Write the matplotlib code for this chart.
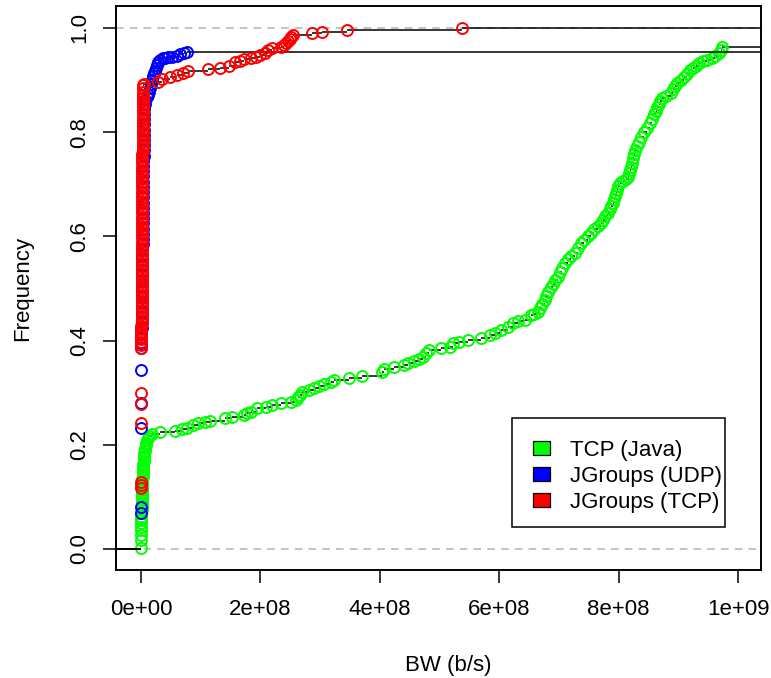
import matplotlib
matplotlib.use("Agg")
import matplotlib.pyplot as plt
from matplotlib.patches import Patch, Rectangle

plt.rcParams['font.family'] = ['Liberation Sans', 'DejaVu Sans']

# ---------------- data (BW in units of 1e9 b/s, cumulative frequency) -------------
BW_UNIT = 1e9

series_names = ["TCP (Java)", "JGroups (UDP)", "JGroups (TCP)"]
series_colors = ["#00FF00", "#0000FF", "#FF0000"]

tcp_java_bw = [
    0.0000, 0.0001, 0.0002, 0.0003, 0.0004, 0.0005, 0.0006, 0.0007, 0.0008, 0.0009,
    0.0010, 0.0011, 0.0012, 0.0013, 0.0014, 0.0015, 0.0016, 0.0017, 0.0018, 0.0020,
    0.0022, 0.0024, 0.0026, 0.0028, 0.0030, 0.0032, 0.0035, 0.0038, 0.0042, 0.0046,
    0.0050, 0.0055, 0.0060, 0.0068, 0.0076, 0.0085, 0.0095, 0.0110, 0.0130,
    0.018, 0.032, 0.057, 0.068, 0.077, 0.087, 0.095, 0.107, 0.115, 0.140,
    0.152, 0.173, 0.178, 0.185, 0.195, 0.210, 0.220, 0.235, 0.252, 0.260,
    0.263, 0.266, 0.270, 0.282, 0.290, 0.298, 0.307, 0.318, 0.323, 0.348,
    0.370, 0.403, 0.407, 0.423, 0.440, 0.448, 0.457, 0.465, 0.473, 0.478,
    0.482, 0.503, 0.518, 0.523, 0.532, 0.548, 0.570, 0.585, 0.593, 0.603,
    0.615, 0.623, 0.632, 0.643, 0.653, 0.659,
    0.665, 0.668, 0.672, 0.676, 0.679, 0.682, 0.686, 0.690, 0.694, 0.698,
    0.702, 0.706, 0.710, 0.716, 0.721, 0.727, 0.732, 0.737, 0.742, 0.748,
    0.753, 0.759, 0.765, 0.770, 0.774, 0.778, 0.782, 0.785, 0.788, 0.790,
    0.792, 0.794, 0.795, 0.797, 0.799, 0.802, 0.807, 0.812, 0.815, 0.817,
    0.819, 0.820, 0.822, 0.824, 0.826, 0.827, 0.830, 0.834, 0.837, 0.842,
    0.847, 0.853, 0.856, 0.860, 0.863, 0.865, 0.868, 0.870, 0.873, 0.880,
    0.887, 0.891, 0.895, 0.898, 0.904, 0.910, 0.915, 0.920, 0.925, 0.930,
    0.935, 0.941, 0.948, 0.957, 0.962, 0.968, 0.971, 0.973,
]
tcp_java_freq = [
    0.002, 0.017, 0.027, 0.036, 0.042, 0.050, 0.056, 0.062, 0.069, 0.074,
    0.079, 0.084, 0.089, 0.094, 0.099, 0.104, 0.109, 0.114, 0.119, 0.124,
    0.129, 0.134, 0.139, 0.144, 0.149, 0.154, 0.159, 0.164, 0.169, 0.174,
    0.179, 0.184, 0.189, 0.194, 0.199, 0.204, 0.209, 0.213, 0.217,
    0.221, 0.225, 0.226, 0.230, 0.232, 0.238, 0.242, 0.243, 0.246, 0.251,
    0.253, 0.257, 0.261, 0.263, 0.271, 0.273, 0.276, 0.280, 0.282, 0.286,
    0.291, 0.296, 0.301, 0.305, 0.309, 0.313, 0.317, 0.321, 0.324, 0.328,
    0.332, 0.340, 0.345, 0.349, 0.353, 0.357, 0.361, 0.365, 0.369, 0.376,
    0.382, 0.386, 0.388, 0.395, 0.397, 0.401, 0.405, 0.411, 0.415, 0.420,
    0.426, 0.434, 0.437, 0.440, 0.449, 0.452,
    0.455, 0.462, 0.470, 0.478, 0.486, 0.494, 0.502, 0.509, 0.516, 0.522,
    0.531, 0.540, 0.549, 0.556, 0.562, 0.568, 0.578, 0.587, 0.594, 0.600,
    0.607, 0.614, 0.620, 0.626, 0.632, 0.639, 0.645, 0.652, 0.658, 0.664,
    0.671, 0.677, 0.683, 0.690, 0.696, 0.702, 0.707, 0.711, 0.714, 0.721,
    0.728, 0.733, 0.741, 0.750, 0.758, 0.766, 0.773, 0.782, 0.791, 0.800,
    0.809, 0.818, 0.826, 0.834, 0.841, 0.848, 0.854, 0.860, 0.866, 0.870,
    0.875, 0.882, 0.888, 0.894, 0.900, 0.906, 0.912, 0.919, 0.924, 0.928,
    0.933, 0.936, 0.939, 0.942, 0.946, 0.952, 0.958, 0.964,
]

jgroups_udp_bw = [
    0.0000, 0.0001, 0.0002, 0.0003, 0.0004, 0.0005,
    0.0006, 0.0007, 0.0008, 0.0009, 0.0010, 0.0011, 0.0012, 0.0013, 0.0014, 0.0015,
    0.0016, 0.0017, 0.0018, 0.0019, 0.0020, 0.0021, 0.0022, 0.0023, 0.0024, 0.0025,
    0.0026, 0.0027, 0.0028, 0.0029, 0.0030, 0.0031, 0.0032, 0.0033, 0.0034, 0.0035,
    0.0036, 0.0037, 0.0038, 0.0039, 0.0040, 0.0041, 0.0042, 0.0043, 0.0044, 0.0045,
    0.0046, 0.0047, 0.0048, 0.0050, 0.0052, 0.0055, 0.0060,
    0.007, 0.010, 0.012, 0.013, 0.015, 0.017, 0.018, 0.020, 0.022, 0.023,
    0.025, 0.026, 0.028, 0.032, 0.037, 0.041, 0.045, 0.052, 0.060, 0.065,
    0.072, 0.077,
]
jgroups_udp_freq = [
    0.069, 0.081, 0.232, 0.280, 0.344, 0.386,
    0.395, 0.405, 0.415, 0.425, 0.435, 0.445, 0.455, 0.465, 0.475, 0.485,
    0.495, 0.505, 0.515, 0.525, 0.535, 0.545, 0.555, 0.565, 0.575, 0.585,
    0.595, 0.605, 0.615, 0.625, 0.635, 0.645, 0.655, 0.665, 0.675, 0.685,
    0.695, 0.705, 0.715, 0.725, 0.735, 0.745, 0.755, 0.765, 0.775, 0.785,
    0.795, 0.805, 0.815, 0.825, 0.835, 0.845, 0.855,
    0.862, 0.868, 0.872, 0.878, 0.885, 0.892, 0.900, 0.907, 0.914, 0.918,
    0.923, 0.929, 0.935, 0.939, 0.942, 0.943, 0.944, 0.945, 0.946, 0.950,
    0.952, 0.954,
]

jgroups_tcp_bw = [
    0.0000, 0.0001, 0.0002, 0.0003, 0.0004, 0.0005,
    0.00060, 0.00063, 0.00066, 0.00069, 0.00072, 0.00075, 0.00078, 0.00081, 0.00084, 0.00087,
    0.00090, 0.00093, 0.00096, 0.00099, 0.00102, 0.00105, 0.00108, 0.00111, 0.00114, 0.00117,
    0.00120, 0.00123, 0.00126, 0.00129, 0.00132, 0.00135, 0.00138, 0.00141, 0.00144, 0.00147,
    0.00150, 0.00153, 0.00156, 0.00159, 0.00162, 0.00165, 0.00168, 0.00171, 0.00174, 0.00177,
    0.00180, 0.00183, 0.00186, 0.00189, 0.00192, 0.00195, 0.00198, 0.00201, 0.00204, 0.00207,
    0.00210, 0.00213, 0.00216, 0.00219, 0.00222, 0.00225, 0.00228, 0.00231, 0.00234, 0.00237,
    0.00240, 0.00243, 0.00246, 0.00249, 0.00252, 0.00255, 0.00258, 0.00261, 0.00264, 0.00267,
    0.00270, 0.00273, 0.00276, 0.00279, 0.00282, 0.00285, 0.00288, 0.00291, 0.00294, 0.00297,
    0.00300, 0.00310, 0.00320, 0.00340, 0.00380,
    0.005, 0.028, 0.035, 0.048, 0.060, 0.070, 0.078, 0.112, 0.132, 0.148,
    0.157, 0.165, 0.173, 0.185, 0.193, 0.200, 0.207, 0.212, 0.220, 0.235,
    0.240, 0.243, 0.246, 0.249, 0.252, 0.255, 0.287, 0.303, 0.345, 0.538,
]
jgroups_tcp_freq = [
    0.117, 0.123, 0.129, 0.242, 0.278, 0.300,
    0.385, 0.392, 0.398, 0.404, 0.410, 0.416, 0.422, 0.428, 0.434, 0.440,
    0.446, 0.452, 0.458, 0.464, 0.470, 0.476, 0.482, 0.488, 0.494, 0.500,
    0.506, 0.512, 0.518, 0.524, 0.530, 0.536, 0.542, 0.548, 0.554, 0.560,
    0.566, 0.572, 0.578, 0.584, 0.590, 0.596, 0.602, 0.608, 0.614, 0.620,
    0.626, 0.632, 0.638, 0.644, 0.650, 0.656, 0.662, 0.668, 0.674, 0.680,
    0.686, 0.692, 0.698, 0.704, 0.710, 0.716, 0.722, 0.728, 0.734, 0.740,
    0.746, 0.752, 0.758, 0.764, 0.770, 0.776, 0.782, 0.788, 0.794, 0.800,
    0.806, 0.812, 0.818, 0.824, 0.830, 0.836, 0.842, 0.848, 0.854, 0.860,
    0.866, 0.872, 0.878, 0.884, 0.890,
    0.893, 0.897, 0.902, 0.906, 0.910, 0.914, 0.918, 0.921, 0.923, 0.928,
    0.934, 0.937, 0.940, 0.942, 0.945, 0.948, 0.952, 0.957, 0.961, 0.964,
    0.967, 0.971, 0.975, 0.979, 0.983, 0.987, 0.990, 0.993, 0.997, 1.000,
]

x_ticks = [0, 2e8, 4e8, 6e8, 8e8, 1e9]
x_tick_labels = ["0e+00", "2e+08", "4e+08", "6e+08", "8e+08", "1e+09"]
y_ticks = [0.0, 0.2, 0.4, 0.6, 0.8, 1.0]
y_tick_labels = ["0.0", "0.2", "0.4", "0.6", "0.8", "1.0"]
x_label = "BW (b/s)"
y_label = "Frequency"

# ---------------- figure ----------------
W, H = 771, 678
fig = plt.figure(figsize=(W / 100, H / 100), dpi=100)
L, R, T, B = 116, 761, 6, 570
ax = fig.add_axes([L / W, 1 - B / H, (R - L) / W, (B - T) / H])

xlim = (-0.0419e9, 1.0385e9)
ylim = (-0.0403, 1.0422)
ax.set_xlim(*xlim)
ax.set_ylim(*ylim)

gray_dash = dict(color="#B3B3B3", lw=1.1, linestyle=(0, (5, 4)), zorder=1)
ax.axhline(0, **gray_dash)
ax.axhline(1, **gray_dash)

all_series = [
    (tcp_java_bw, tcp_java_freq),
    (jgroups_udp_bw, jgroups_udp_freq),
    (jgroups_tcp_bw, jgroups_tcp_freq),
]
for i, ((bw, fr), col) in enumerate(zip(all_series, series_colors)):
    xs = [v * BW_UNIT for v in bw]
    z = 2 + 2 * i
    ax.hlines(fr[:-1], xs[:-1], xs[1:], colors="black", lw=1.1, zorder=z)
    ax.hlines([0], xlim[0], xs[0], colors="black", lw=1.1, zorder=z)
    ax.hlines([fr[-1]], xs[-1], xlim[1], colors="black", lw=1.1, zorder=z)
    ax.plot(xs, fr, linestyle="none", marker="o", markerfacecolor="none",
            markeredgecolor=col, markersize=7.9, markeredgewidth=1.4, zorder=z + 1)

ax.set_xticks(x_ticks)
ax.set_xticklabels(x_tick_labels)
ax.set_yticks(y_ticks)
ax.set_yticklabels(y_tick_labels)
ax.tick_params(axis="both", direction="out", length=9.7, width=1.1,
               labelsize=16, color="black")
ax.tick_params(axis="x", pad=11)
ax.tick_params(axis="y", pad=9)
for lab in ax.get_yticklabels():
    lab.set_rotation(90)
    lab.set_va("center")
    lab.set_ha("right")

for sp in ax.spines.values():
    sp.set_linewidth(1.4)
    sp.set_color("black")

ax.set_xlabel(x_label, fontsize=16)
ax.set_ylabel(y_label, fontsize=16)
ax.xaxis.set_label_coords((448 - L) / (R - L), -(665 - B) / (B - T))
ax.xaxis.label.set_va("center")
ax.yaxis.set_label_coords(-(L - 23) / (R - L), 0.5)
ax.yaxis.label.set_va("center")

# legend frame
fx0, fx1, fy0, fy1 = 512, 725, 418, 527
frame = Rectangle(((fx0 - L) / (R - L), (B - fy1) / (B - T)),
                  (fx1 - fx0) / (R - L), (fy1 - fy0) / (B - T),
                  transform=ax.transAxes, facecolor="white", edgecolor="black",
                  lw=1.1, zorder=20)
ax.add_patch(frame)
handles = [Patch(facecolor=c, edgecolor="black", lw=0.9) for c in series_colors]
leg = ax.legend(handles, series_names, loc="upper left",
                bbox_to_anchor=((533 - L) / (R - L), (B - 440) / (B - T)),
                frameon=False, fontsize=16, borderpad=0, borderaxespad=0,
                handlelength=0.77, handleheight=0.59, handletextpad=0.9,
                labelspacing=0.22)
leg.set_zorder(21)

fig.savefig("out.png", dpi=100)
